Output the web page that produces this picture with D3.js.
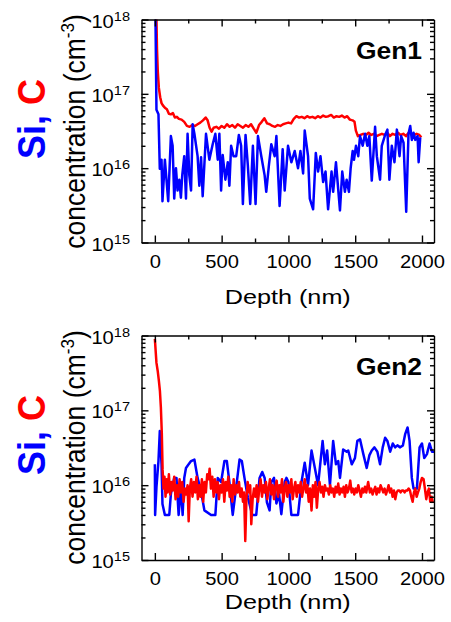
<!DOCTYPE html>
<html>
<head>
<meta charset="utf-8">
<script src="https://cdn.jsdelivr.net/npm/d3@7"></script>
<style>
  body { margin: 0; background: #fff; }
  svg text { font-family: "Liberation Sans", Arial, sans-serif; fill: #000; }
  .axis path, .axis line { stroke: #000; stroke-width: 1.4; }
</style>
</head>
<body>
<svg id="chart" width="451" height="622"></svg>
<script>
var W = 451, H = 622;

// depth (nm) and concentration (units of 1e15 cm^-3)
var gen1CDepth = [8, 12, 16, 22, 30, 40, 50, 60, 75, 90, 105, 120, 135, 150, 165, 180, 200, 220, 240, 260, 280, 300, 320, 340, 360, 380, 395, 410, 425, 440, 460, 480, 500, 520, 540, 560, 580, 600, 620, 640, 660, 680, 700, 720, 740, 760, 780, 800, 820, 840, 860, 880, 900, 920, 940, 960, 980, 1000, 1020, 1040, 1060, 1080, 1100, 1120, 1140, 1160, 1180, 1200, 1220, 1240, 1260, 1280, 1300, 1320, 1340, 1360, 1380, 1400, 1420, 1440, 1460, 1480, 1495, 1505, 1520, 1540, 1560, 1580, 1600, 1620, 1640, 1660, 1680, 1700, 1720, 1740, 1760, 1780, 1800, 1820, 1840, 1860, 1880, 1900, 1920, 1940, 1960, 1980, 1995];
var gen1CVal = [2000, 1000, 400, 200, 120, 90, 75, 70, 65, 62, 54, 53, 55, 48, 49, 46, 45, 42, 37, 36, 38, 37, 39, 41, 44, 48, 44, 35, 31, 35, 36, 34, 37, 35, 39, 36, 38, 35, 39, 37, 35, 38, 36, 39, 34, 30, 38, 42, 47, 40, 39, 37, 36, 38, 37, 39, 40, 41, 40, 46, 50, 48, 49, 47, 50, 48, 49, 47, 50, 48, 51, 49, 50, 52, 48, 50, 49, 51, 48, 50, 45, 44, 42, 32, 27, 28, 29, 28, 30, 28, 29, 27, 28, 29, 28, 30, 27, 29, 28, 30, 28, 29, 27, 30, 29, 28, 29, 28, 26];

var gen1SiDepth = [0, 3, 12, 27, 37, 50, 57, 75, 100, 120, 133, 145, 158, 170, 183, 195, 205, 220, 233, 245, 258, 271, 283, 296, 320, 333, 346, 358, 383, 408, 433, 453, 471, 483, 496, 508, 528, 546, 558, 571, 589, 609, 629, 646, 659, 679, 696, 714, 734, 754, 772, 797, 822, 834, 854, 872, 897, 910, 934, 957, 972, 997, 1022, 1047, 1072, 1090, 1110, 1122, 1147, 1160, 1185, 1205, 1222, 1240, 1260, 1278, 1297, 1323, 1335, 1356, 1386, 1403, 1423, 1436, 1453, 1466, 1481, 1491, 1506, 1523, 1536, 1556, 1574, 1591, 1606, 1624, 1649, 1662, 1686, 1699, 1724, 1741, 1756, 1774, 1794, 1812, 1832, 1844, 1862, 1882, 1899, 1912, 1924, 1937, 1950, 1967, 1975, 1987];
var gen1SiVal = [3000, 2000, 61, 53, 9.8, 13, 3.6, 13, 3.6, 27, 20, 3.9, 10, 5, 7, 4, 8, 14.5, 3.9, 29, 8, 5, 39, 29, 14.5, 5.8, 14, 4.2, 29, 13, 21, 29, 13, 29, 5, 15, 7, 12, 5.8, 20, 14.5, 14.5, 28, 20, 3.3, 28, 11, 3.3, 20, 3.3, 27, 14.5, 8, 4.8, 11, 21, 14.5, 27, 3.1, 18, 5, 20, 12, 17, 10, 17, 8.5, 32, 14.5, 3.9, 2.8, 16, 9, 14.5, 6.5, 9, 2.8, 9, 4.8, 12, 2.7, 9, 4.8, 7, 4.8, 10, 17, 13, 20, 14.5, 27, 20, 29, 20, 27, 6.8, 36, 14.5, 7, 20, 28, 33, 7, 20, 12, 33, 14.5, 27, 22, 2.6, 29, 37, 24, 30, 24, 27, 12, 26];

var gen2CDepth = [0, 12, 22, 30, 38, 45, 52, 58, 65, 72, 80, 88, 95, 105, 115, 125, 135, 145, 155, 165, 175, 185, 195, 205, 215, 225, 235, 245, 253, 262, 272, 282, 292, 302, 312, 322, 332, 342, 352, 362, 372, 382, 392, 402, 410, 420, 430, 440, 450, 460, 470, 480, 490, 500, 510, 520, 530, 540, 550, 560, 570, 580, 590, 600, 610, 620, 630, 640, 650, 660, 668, 677, 686, 695, 705, 714, 722, 732, 742, 752, 762, 772, 782, 792, 802, 812, 822, 832, 842, 852, 862, 872, 882, 892, 902, 912, 922, 932, 942, 952, 962, 972, 982, 992, 1002, 1012, 1022, 1032, 1042, 1052, 1062, 1072, 1082, 1092, 1102, 1112, 1122, 1132, 1142, 1152, 1162, 1173, 1183, 1193, 1203, 1213, 1223, 1233, 1243, 1253, 1263, 1273, 1283, 1293, 1303, 1313, 1323, 1333, 1343, 1353, 1363, 1373, 1383, 1393, 1403, 1413, 1423, 1433, 1443, 1453, 1463, 1473, 1483, 1493, 1503, 1513, 1523, 1533, 1543, 1553, 1563, 1573, 1583, 1597, 1610, 1620, 1630, 1640, 1650, 1660, 1670, 1680, 1690, 1700, 1710, 1720, 1730, 1740, 1750, 1760, 1770, 1780, 1790, 1800, 1810, 1820, 1830, 1840, 1850, 1860, 1870, 1880, 1890, 1900, 1910, 1920, 1930, 1940, 1950, 1960, 1970, 1980, 1990, 2000, 2012, 2022, 2032, 2042, 2052, 2062, 2072, 2082];
var gen2CVal = [900, 430, 330, 250, 180, 110, 50, 16, 9, 13, 7, 12, 8, 14, 7.5, 11, 8.5, 13, 6.5, 10, 7, 12, 8, 11, 6, 9, 7.5, 10, 3.3, 9, 12, 7, 11, 8, 13, 6.5, 10, 7, 12, 6, 11, 8, 14, 12, 16.6, 9, 13, 7, 12, 8, 11, 6.5, 10, 8, 12, 6, 11, 8.5, 13, 7, 10, 6, 12, 7.5, 10, 8, 11, 7, 9, 6, 8, 1.8, 7, 11, 8, 10, 3, 6.5, 9, 7, 10, 6, 9, 12, 7, 10, 8, 11, 6.5, 9, 12, 7.5, 10, 6.5, 9.5, 11.5, 7, 10, 8, 12, 6, 9, 11, 7, 10, 8, 12, 6.5, 9, 11, 7, 10, 8, 11, 7, 9, 12, 8, 10, 6, 9, 4.6, 10, 7, 11, 5, 9, 11, 8, 9.5, 7, 10, 8.5, 9, 7.5, 10, 8, 9, 7, 9.5, 8, 10.5, 7.5, 9, 8, 9.5, 7, 10, 8, 9, 11.5, 8, 9, 7.5, 9, 8, 10, 8.5, 7, 9, 8, 9.5, 8, 11, 8, 9, 7.5, 8.5, 9.5, 7.5, 9, 8, 10, 9, 8, 9, 7.5, 8.5, 10, 8, 9, 7, 8.5, 6.5, 8, 8.5, 8.5, 8, 8.5, 8.5, 8, 8.5, 8.5, 9, 8.5, 7, 6, 8, 9, 7, 8, 9, 11, 12.5, 12, 9, 6.5, 8, 9, 6, 7, 5.8];

var gen2SiDepth = [0, 2, 12, 27, 37, 50, 57, 75, 108, 120, 145, 162, 178, 195, 208, 220, 233, 253, 271, 296, 320, 346, 371, 421, 453, 471, 496, 521, 539, 558, 583, 609, 634, 651, 671, 696, 729, 759, 784, 804, 822, 839, 859, 872, 892, 910, 930, 947, 972, 985, 1000, 1022, 1072, 1098, 1122, 1147, 1173, 1198, 1222, 1256, 1273, 1290, 1311, 1335, 1356, 1373, 1386, 1410, 1436, 1448, 1474, 1498, 1516, 1536, 1561, 1586, 1606, 1624, 1644, 1666, 1686, 1706, 1724, 1741, 1762, 1781, 1799, 1816, 1837, 1857, 1874, 1892, 1907, 1924, 1937, 1962, 1982, 2000, 2017, 2037, 2057, 2075, 2092];
var gen2SiVal = [19, 4, 9.4, 21, 53, 19, 5.6, 4, 4, 7.6, 12.5, 12.5, 4, 9.4, 4, 12.5, 17, 19, 21, 22, 12.5, 8.3, 4.6, 4, 4, 12.5, 11, 21, 21, 11, 4, 9.4, 22, 21, 12.5, 6.9, 4, 4, 12.5, 15, 12.5, 5.9, 4.6, 11, 12.5, 5.7, 7.6, 4.1, 11, 12.5, 11, 4, 4, 11, 20, 10, 29, 17, 10, 39, 19, 29, 10, 39, 19, 21, 12.5, 30, 28, 29, 19, 23, 39, 41, 26, 17, 25, 29, 32, 28, 19, 32, 43, 39, 28, 36, 32, 34, 32, 34, 48, 59, 39, 12.5, 9, 9, 32, 36, 23, 26, 36, 28, 28];

var xMajor = [0, 500, 1000, 1500, 2000];
var xMinor = [250, 750, 1250, 1750];
var yExp = [15, 16, 17, 18];

var svg = d3.select("#chart");
var plotL = 141.5, plotR = 434;

function zip(ds, vs) {
  return ds.map(function(d, i) { return [d, vs[i] * 1e15]; });
}

var yMinor = [];
[15, 16, 17].forEach(function(e) {
  for (var k = 2; k <= 9; k++) yMinor.push(k * Math.pow(10, e));
});

function drawPanel(id, top, bot, name, cData, siData, siOnTop, depthBase) {
  var x = d3.scaleLinear().domain([-100, 2090]).range([plotL, plotR]);
  var y = d3.scaleLog().domain([1e15, 1e18]).range([bot, top]);
  var g = svg.append("g");

  g.append("clipPath").attr("id", "clip" + id)
    .append("rect").attr("x", plotL).attr("y", top).attr("width", plotR - plotL).attr("height", bot - top);

  var line = d3.line().x(function(d) { return x(d[0]); }).y(function(d) { return y(d[1]); });
  var lines = g.append("g").attr("clip-path", "url(#clip" + id + ")");
  var order = siOnTop ? [["#ff0000", cData], ["#0000ff", siData]] : [["#0000ff", siData], ["#ff0000", cData]];
  order.forEach(function(o) {
    lines.append("path").attr("d", line(o[1])).attr("fill", "none")
      .attr("stroke", o[0]).attr("stroke-width", 2.5).attr("stroke-linejoin", "round");
  });

  // x axes (bottom labelled, top mirrored)
  var xb = g.append("g").attr("class", "axis").attr("transform", "translate(0," + bot + ")")
    .call(d3.axisBottom(x).tickValues(xMajor).tickSize(-7).tickSizeOuter(0).tickPadding(12.5).tickFormat(d3.format("d")));
  xb.selectAll(".tick text").attr("font-size", 18).attr("transform", "scale(1.12,1)").style("font-family", "Liberation Sans, Arial");
  g.append("g").attr("class", "axis").attr("transform", "translate(0," + bot + ")")
    .call(d3.axisBottom(x).tickValues(xMinor).tickSize(-4).tickFormat("")).select(".domain").remove();
  g.append("g").attr("class", "axis").attr("transform", "translate(0," + top + ")")
    .call(d3.axisTop(x).tickValues(xMajor).tickSize(-7).tickSizeOuter(0).tickFormat(""));
  g.append("g").attr("class", "axis").attr("transform", "translate(0," + top + ")")
    .call(d3.axisTop(x).tickValues(xMinor).tickSize(-4).tickFormat("")).select(".domain").remove();

  // y axes
  var yl = g.append("g").attr("class", "axis").attr("transform", "translate(" + plotL + ",0)")
    .call(d3.axisLeft(y).tickValues(yExp.map(function(e) { return Math.pow(10, e); }))
      .tickSize(-7).tickSizeOuter(0).tickPadding(11.5).tickFormat(""));
  yl.selectAll(".tick").each(function(d, i) {
    var t = d3.select(this).select("text")
      .attr("x", -11.5 / 1.12).attr("dy", 7.5).attr("transform", "scale(1.12,1)")
      .attr("font-size", 18).style("font-family", "Liberation Sans, Arial");
    t.append("tspan").text("10");
    t.append("tspan").attr("dy", -7).attr("font-size", 13).text(yExp[i]);
  });
  g.append("g").attr("class", "axis").attr("transform", "translate(" + plotL + ",0)")
    .call(d3.axisLeft(y).tickValues(yMinor).tickSize(-4).tickFormat("")).select(".domain").remove();
  g.append("g").attr("class", "axis").attr("transform", "translate(" + plotR + ",0)")
    .call(d3.axisRight(y).tickValues(yExp.map(function(e) { return Math.pow(10, e); }))
      .tickSize(-7).tickSizeOuter(0).tickFormat(""));
  g.append("g").attr("class", "axis").attr("transform", "translate(" + plotR + ",0)")
    .call(d3.axisRight(y).tickValues(yMinor).tickSize(-4).tickFormat("")).select(".domain").remove();

  // panel name
  g.append("text").attr("transform", "translate(422," + (top + 39.5) + ") scale(1.15,1)")
    .attr("text-anchor", "end").attr("font-size", 23).attr("font-weight", "bold").text(name);

  // x title
  g.append("text").attr("transform", "translate(" + ((plotL + plotR) / 2) + "," + depthBase + ") scale(1.2,1)")
    .attr("text-anchor", "middle").attr("font-size", 21).text("Depth (nm)");

  // y title: two lines
  var cy = top + 99.5;
  var st = g.append("text").attr("transform", "translate(45," + cy + ") scale(1.1,1) rotate(-90)")
    .attr("text-anchor", "middle").attr("font-size", 36).attr("font-weight", "bold");
  st.append("tspan").attr("fill", "#0000ff").style("fill", "#0000ff").text("Si, ");
  st.append("tspan").attr("fill", "#ff0000").style("fill", "#ff0000").text("C");

  var ct = g.append("text").attr("transform", "translate(85," + (top + 112) + ") scale(1.1,1) rotate(-90)")
    .attr("text-anchor", "middle").attr("font-size", 26.5);
  ct.append("tspan").text("concentration (cm");
  ct.append("tspan").attr("dy", -10).attr("font-size", 17).text("-3");
  ct.append("tspan").attr("dy", 10).text(")");
}

drawPanel(1, 19.5, 242.5, "Gen1", zip(gen1CDepth, gen1CVal), zip(gen1SiDepth, gen1SiVal), true, 304);
drawPanel(2, 335.5, 560, "Gen2", zip(gen2CDepth, gen2CVal), zip(gen2SiDepth, gen2SiVal), false, 609);
</script>
</body>
</html>
